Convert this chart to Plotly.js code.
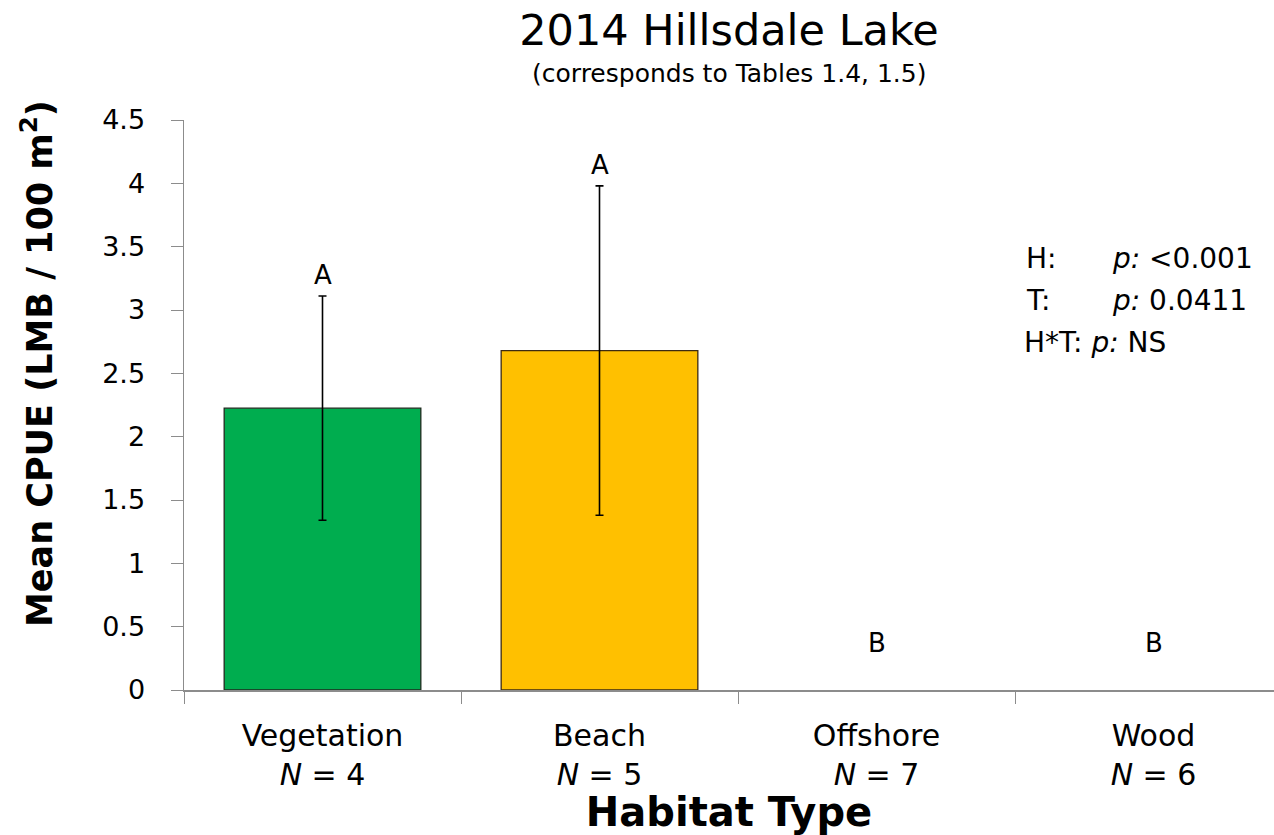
<!DOCTYPE html>
<html>
<head>
<meta charset="utf-8">
<script src="https://cdn.plot.ly/plotly-3.0.1.min.js"></script>
<style>html,body{margin:0;padding:0;background:#fff;}#chart{width:1274px;height:835px;}</style>
</head>
<body>
<div id="chart"></div>
<script>
// ---- data ----
const habitats = ['Vegetation', 'Beach', 'Offshore', 'Wood'];
const sampleN = [4, 5, 7, 6];
const meanCPUE = [2.225, 2.68, 0, 0];
// standard error: only the two non-zero habitats have error bars
const errCPUE = [0.885, 1.30];
const letters = ['A', 'A', 'B', 'B'];
const yTicks = [0, 0.5, 1, 1.5, 2, 2.5, 3, 3.5, 4, 4.5];
const yTickLabels = ['0', '0.5', '1', '1.5', '2', '2.5', '3', '3.5', '4', '4.5'];
const statLabels = ['H:', 'T:', 'H*T:'];
const statValues = ['<0.001', '0.0411', 'NS'];
const chartTitle = '2014 Hillsdale Lake';
const chartSubtitle = '(corresponds to Tables 1.4, 1.5)';
const xTitle = 'Habitat Type';
const yTitle = 'Mean CPUE (LMB / 100 m<sup>2</sup>)';

const sans = '"DejaVu Sans", Verdana, sans-serif';

// plot-area geometry (px) used to convert pixel offsets to paper coords
const PL = 184, PW = 1090, PB = 690, PH = 570;
const px2x = p => (p - PL) / PW;
const px2y = p => (PB - p) / PH;

const tickText = habitats.map((h, i) => h + '<br><i>N</i> = ' + sampleN[i]);

const trace = {
  type: 'bar',
  x: habitats,
  y: meanCPUE,
  marker: {
    color: ['#00AD4F', '#FFC000', '#ffffff', '#ffffff'],
    line: { color: ['#1f2a1f', '#3d2b12', '#ffffff', '#ffffff'], width: [1.3, 1.3, 0, 0] }
  },
  error_y: {
    type: 'data',
    array: errCPUE,
    visible: true,
    color: '#000000',
    thickness: 1.6,
    width: 4
  },
  hoverinfo: 'x+y'
};

const annotations = [];
habitats.forEach((h, i) => {
  const top = meanCPUE[i] + (errCPUE[i] || 0);
  annotations.push({
    x: h, y: top, xref: 'x', yref: 'y',
    text: letters[i], showarrow: false,
    yanchor: 'bottom', yshift: top > 0 ? 4 : 30,
    font: { family: sans, size: 26, color: '#000' }
  });
});
statLabels.forEach((lab, i) => {
  const yy = px2y(258 + i * 42);
  if (lab === 'H*T:') {
    annotations.push({
      xref: 'paper', yref: 'paper', x: px2x(1022), y: yy,
      xanchor: 'left', yanchor: 'middle', showarrow: false,
      text: lab + ' <i>p:</i> ' + statValues[i],
      font: { family: sans, size: 28, color: '#000' }
    });
  } else {
    annotations.push({
      xref: 'paper', yref: 'paper', x: px2x(1024), y: yy,
      xanchor: 'left', yanchor: 'middle', showarrow: false,
      text: lab,
      font: { family: sans, size: 28, color: '#000' }
    });
    annotations.push({
      xref: 'paper', yref: 'paper', x: px2x(1110), y: yy,
      xanchor: 'left', yanchor: 'middle', showarrow: false,
      text: '<i>p:</i> ' + statValues[i],
      font: { family: sans, size: 28, color: '#000' }
    });
  }
});
// subtitle
annotations.push({
  xref: 'paper', yref: 'paper', x: 0.5, y: px2y(74),
  xanchor: 'center', yanchor: 'middle', showarrow: false,
  text: chartSubtitle,
  font: { family: sans, size: 25, color: '#000' }
});
// y-axis title (placed off-centre like the reference)
annotations.push({
  xref: 'paper', yref: 'paper', x: px2x(37), y: px2y(364),
  xanchor: 'center', yanchor: 'middle', showarrow: false,
  textangle: -90,
  text: '<b>' + yTitle + '</b>',
  font: { family: sans, size: 35, color: '#000' }
});

const layout = {
  width: 1274,
  height: 835,
  margin: { l: PL, r: 0, t: 120, b: 145 },
  paper_bgcolor: '#ffffff',
  plot_bgcolor: '#ffffff',
  showlegend: false,
  bargap: 0.29,
  title: {
    text: chartTitle,
    font: { family: sans, size: 43, color: '#000' },
    x: 0.5, xref: 'paper', xanchor: 'center',
    y: 1 - 30 / 835, yref: 'container', yanchor: 'middle'
  },
  xaxis: {
    type: 'category',
    range: [-0.5, -0.5 + PW / 277],
    tickmode: 'array',
    tickvals: habitats,
    ticktext: tickText,
    tickson: 'boundaries',
    ticks: 'outside',
    ticklen: 12,
    tickcolor: '#8c8c8c',
    tickwidth: 1,
    showline: true,
    linecolor: '#8c8c8c',
    linewidth: 1.5,
    showgrid: false,
    zeroline: false,
    ticklabelstandoff: 18,
    tickfont: { family: sans, size: 30, color: '#000' },
    title: {
      text: '<b>' + xTitle + '</b>',
      font: { family: sans, size: 40, color: '#000' },
      standoff: 0
    },
    automargin: false,
    fixedrange: true
  },
  yaxis: {
    range: [0, 4.5],
    tickmode: 'array',
    tickvals: yTicks,
    ticktext: yTickLabels,
    ticks: 'outside',
    ticklen: 12,
    tickcolor: '#8c8c8c',
    tickwidth: 1,
    showline: true,
    linecolor: '#8c8c8c',
    linewidth: 1.5,
    showgrid: false,
    zeroline: false,
    ticklabelstandoff: 20,
    tickfont: { family: sans, size: 27, color: '#000' },
    automargin: false,
    fixedrange: true
  },
  annotations: annotations
};

Plotly.newPlot('chart', [trace], layout, { displayModeBar: false, staticPlot: true });
</script>
</body>
</html>
